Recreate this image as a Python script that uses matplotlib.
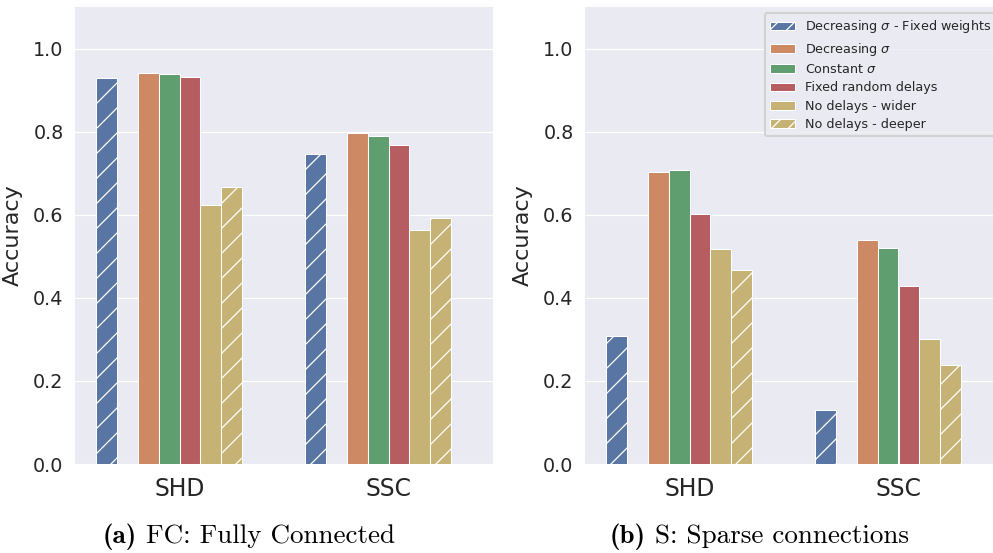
import numpy as np
import matplotlib
matplotlib.use("Agg")
import matplotlib.pyplot as plt
from matplotlib.patches import Patch

# ---- data ----
datasets = ["SHD", "SSC"]
methods = ["Decreasing $\\sigma$ - Fixed weights", "Decreasing $\\sigma$", "Constant $\\sigma$",
           "Fixed random delays", "No delays - wider", "No delays - deeper"]
acc_fc = {
    "SHD": [0.929, 0.941, 0.938, 0.931, 0.624, 0.666],
    "SSC": [0.745, 0.796, 0.790, 0.769, 0.564, 0.591],
}
acc_sparse = {
    "SHD": [0.309, 0.704, 0.707, 0.602, 0.518, 0.468],
    "SSC": [0.131, 0.540, 0.520, 0.428, 0.302, 0.238],
}
captions = [("(a)", " FC: Fully Connected"), ("(b)", " S: Sparse connections")]

colors = ["#5875A4", "#CC8963", "#5F9E6E", "#B55D60", "#C7B275", "#C7B275"]
hatched = [True, False, False, False, False, True]
slots = [0, 2, 3, 4, 5, 6]   # 8 hue slots in the original, two of them empty
n_slots = 8
group_w = 0.8

plt.rcParams["hatch.linewidth"] = 0.6
plt.rcParams["text.color"] = "#262626"

fig = plt.figure(figsize=(993 / 150, 553 / 150), dpi=150)
ax_l = fig.add_axes([75 / 993, 89 / 553, 418 / 993, 457 / 553])
ax_r = fig.add_axes([585 / 993, 89 / 553, 418 / 993, 457 / 553])

bw = group_w / n_slots
for ax, data in [(ax_l, acc_fc), (ax_r, acc_sparse)]:
    ax.set_facecolor("#EAEAF2")
    for s in ax.spines.values():
        s.set_visible(False)
    ax.set_axisbelow(True)
    ax.grid(axis="y", color="white", linewidth=0.6)
    for gi, ds in enumerate(datasets):
        for k, v in enumerate(data[ds]):
            x = gi - group_w / 2 + slots[k] * bw + bw / 2
            ax.bar(x, v, width=bw, color=colors[k], hatch="//" if hatched[k] else "",
                   edgecolor="white", linewidth=0.5)
    ax.set_xlim(-0.5, 1.5)
    ax.set_ylim(0, 1.1)
    ax.set_xticks(range(len(datasets)))
    ax.set_xticklabels(datasets, fontsize=11.3)
    ax.set_yticks([0.0, 0.2, 0.4, 0.6, 0.8, 1.0])
    ax.set_yticklabels(["0.0", "0.2", "0.4", "0.6", "0.8", "1.0"], fontsize=9.2)
    ax.tick_params(axis="both", length=0, colors="#262626")
    ax.tick_params(axis="x", pad=6)
    ax.tick_params(axis="y", pad=5.5)
    ax.set_ylabel("Accuracy", fontsize=10.7, color="#262626", labelpad=5)

# legend patches show a denser hatch than the bars
handles = [Patch(facecolor=colors[k], hatch="///" if hatched[k] else "",
                 edgecolor="white", linewidth=0.5)
           for k in range(len(methods))]
leg = ax_r.legend(handles, methods, loc="upper right", fontsize=6.1, labelspacing=0.42,
                  facecolor="#EAEAF2", edgecolor="0.8", framealpha=0.8)

# subfigure captions (LaTeX style)
fig.canvas.draw()
r = fig.canvas.get_renderer()
for (tag, rest), cx in zip(captions, [249, 759]):
    t1 = fig.text(0, 0, tag, fontfamily="cmb10", fontsize=13, color="black")
    t2 = fig.text(0, 0, rest, fontfamily="cmr10", fontsize=13, color="black")
    w1 = t1.get_window_extent(r).width
    w2 = t2.get_window_extent(r).width
    x0 = cx - (w1 + w2) / 2
    y0 = 553 - 543
    t1.set_position((x0 / 993, y0 / 553))
    t2.set_position(((x0 + w1) / 993, y0 / 553))
    t1.set_va("baseline")
    t2.set_va("baseline")

fig.savefig("out.png", dpi=150)
